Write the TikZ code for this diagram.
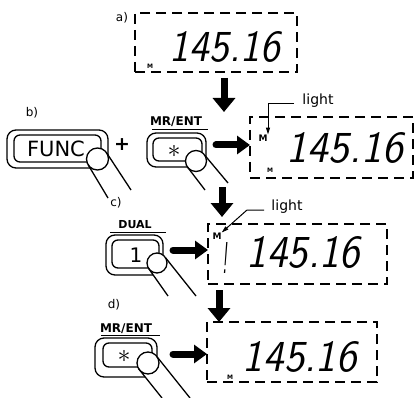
\documentclass[tikz,border=0pt]{standalone}
\usepackage{fontspec}
\setmainfont{DejaVu Sans}
\usetikzlibrary{arrows.meta}
\newcommand{\segtxt}[3]{\resizebox{#1}{#2}{\sffamily\slshape #3}}
\newcommand{\fingr}[7]{%
  \fill[white] ({#1-0.85*#3},{#2+0.53*#3}) -- (#4,#5) -- (#6,#7) -- ({#1+0.85*#3},{#2-0.53*#3}) -- cycle;
  \draw[fingerline, fill=white] (#1,#2) circle[radius=#3];
  \draw[fingerline] ({#1-0.85*#3},{#2+0.53*#3}) -- (#4,#5) ({#1+0.85*#3},{#2-0.53*#3}) -- (#6,#7);
}
\begin{document}
\begin{tikzpicture}[x=1pt,y=-1pt,
  display/.style={draw, line width=1.2pt, dash pattern=on 10pt off 6pt, inner sep=0pt, outer sep=0pt},
  outerbtn/.style={draw, line width=1.3pt, rounded corners=9pt, inner sep=0pt, outer sep=0pt},
  innerbtn/.style={draw, line width=1.3pt, rounded corners=6pt, inner sep=0pt, outer sep=0pt},
  fingerline/.style={line width=1.3pt},
  bigarrow/.style={line width=7pt, -{Triangle[length=14pt,width=22pt]}},
  rarrow/.style={line width=7pt, line cap=round, -{Triangle[length=13pt,width=18pt]}},
  leader/.style={line width=1pt, -{Triangle[length=7pt,width=4pt]}},
  lbl/.style={font=\fontsize{12}{12}\selectfont, inner sep=0pt},
  keylbl/.style={font=\bfseries\fontsize{11}{11}\selectfont, inner sep=0pt},
  lighttxt/.style={font=\fontsize{14}{14}\selectfont, inner sep=0pt},
  seg/.style={inner sep=0pt},
  smallm/.style={font=\bfseries\fontsize{6}{6}\selectfont, inner sep=0pt},
  bigm/.style={font=\bfseries\fontsize{9}{9}\selectfont, inner sep=0pt},
]
\useasboundingbox (0,0) rectangle (417,398);

% ---------- a) ----------
\node[lbl] (la) at (122,18) {a)};
\node[display, minimum width=162pt, minimum height=59pt, anchor=north west] (da) at (135,13) {};
\node[seg] (na) at (225,47) {\segtxt{110pt}{30pt}{145.16}};
\node[smallm] (ma) at (150,66) {M};

\coordinate (a1) at (224,78);
\coordinate (a2) at (224,112);
\draw[bigarrow] (a1) -- (a2);

% ---------- b) ----------
\node[lbl] (lb) at (32,113) {b)};
\node[outerbtn, minimum width=101pt, minimum height=38pt] (funcO) at (57.5,149) {};
\node[innerbtn, minimum width=87pt, minimum height=27pt] (funcI) at (57.5,148.5) {};
\node[inner sep=0pt, font=\fontsize{21}{21}\selectfont] (func) at (56,149) {FUNC};
\fingr{97.5}{159}{11}{108}{198}{131}{190}

\node[inner sep=0pt, font=\bfseries\fontsize{19}{19}\selectfont] (plus) at (122,145) {+};

\node[font=\bfseries\fontsize{12}{12}\selectfont, inner sep=0pt] (mrb) at (176,122) {MR/ENT};
\coordinate (ub1) at (152,130);
\coordinate (ub2) at (208,130);
\draw[line width=1pt] (ub1) -- (ub2);
\node[outerbtn, minimum width=59pt, minimum height=34pt] (mrbO) at (176.5,150) {};
\node[innerbtn, minimum width=49pt, minimum height=23pt] (mrbI) at (177.5,149.5) {};
\node[inner sep=0pt] (astb) at (174,151) {\scalebox{2.6}{$\ast$}};
\fingr{196}{161}{10.5}{205}{190}{228}{183}

\coordinate (rb1) at (216,145);
\node[display, minimum width=163pt, minimum height=61pt, anchor=north west] (db) at (250,117) {};
\draw[rarrow] (rb1) -- (db.west |- rb1);
\node[seg] (nb) at (345,148) {\segtxt{116pt}{30pt}{145.16}};
\node[bigm] (mb) at (263,138) {M};
\node[smallm] (mb2) at (270,170) {M};
\node[lighttxt] (lightb) at (318,101) {light};
\coordinate (lb1) at (294,104);
\coordinate (lb2) at (268,104);
\draw[leader] (lb1) -- (lb2) -- (mb.north -| lb2);

\coordinate (b1) at (222,187);
\coordinate (b2) at (222,217);
\draw[bigarrow] (b1) -- (b2);

% ---------- c) ----------
\node[lbl] (lc) at (116,203) {c)};
\node[keylbl] (dual) at (135,225) {DUAL};
\coordinate (uc1) at (110,232);
\coordinate (uc2) at (166,232);
\draw[line width=1pt] (uc1) -- (uc2);
\node[outerbtn, minimum width=57pt, minimum height=40pt] (dualO) at (134.5,255) {};
\node[innerbtn, minimum width=47pt, minimum height=28pt] (dualI) at (135.5,254) {};
\node[inner sep=0pt, font=\fontsize{20}{20}\selectfont] (one) at (136,255) {1};
\fingr{157}{263}{10}{168}{296}{196}{296}

\coordinate (rc1) at (173,250);
\node[display, minimum width=179pt, minimum height=60pt, anchor=north west] (dc) at (208,224) {};
\draw[rarrow] (rc1) -- (dc.west |- rc1);
\node[seg] (nc) at (303.5,252.5) {\segtxt{113pt}{31pt}{145.16}};
\node[seg] (nc0) at (225,258) {\segtxt{5pt}{31pt}{!}};
\node[bigm] (mc) at (217,236) {M};
\node[lighttxt] (lightc) at (287,207) {light};
\coordinate (lc1) at (264,210);
\coordinate (lc2) at (247,210);
\draw[leader] (lc1) -- (lc2) -- (mc.north east);

\coordinate (c1) at (219,290);
\coordinate (c2) at (219,322);
\draw[bigarrow] (c1) -- (c2);

% ---------- d) ----------
\node[lbl] (ld) at (114,305) {d)};
\node[font=\bfseries\fontsize{12}{12}\selectfont, inner sep=0pt] (mrd) at (126,329) {MR/ENT};
\coordinate (ud1) at (101,335);
\coordinate (ud2) at (160,335);
\draw[line width=1pt] (ud1) -- (ud2);
\node[outerbtn, minimum width=62pt, minimum height=39pt] (mrdO) at (126,357.5) {};
\node[innerbtn, minimum width=49pt, minimum height=24pt] (mrdI) at (127.5,355) {};
\node[inner sep=0pt] (astd) at (124,356) {\scalebox{2.6}{$\ast$}};
\fingr{148}{363}{11}{162}{398}{190}{398}

\coordinate (rd1) at (173,354);
\node[display, minimum width=170pt, minimum height=60pt, anchor=north west] (dd) at (207,322) {};
\draw[rarrow] (rd1) -- (dd.west |- rd1);
\node[seg] (nd) at (300,357) {\segtxt{114pt}{30pt}{145.16}};
\node[smallm] (md) at (230,377) {M};
\end{tikzpicture}
\end{document}
